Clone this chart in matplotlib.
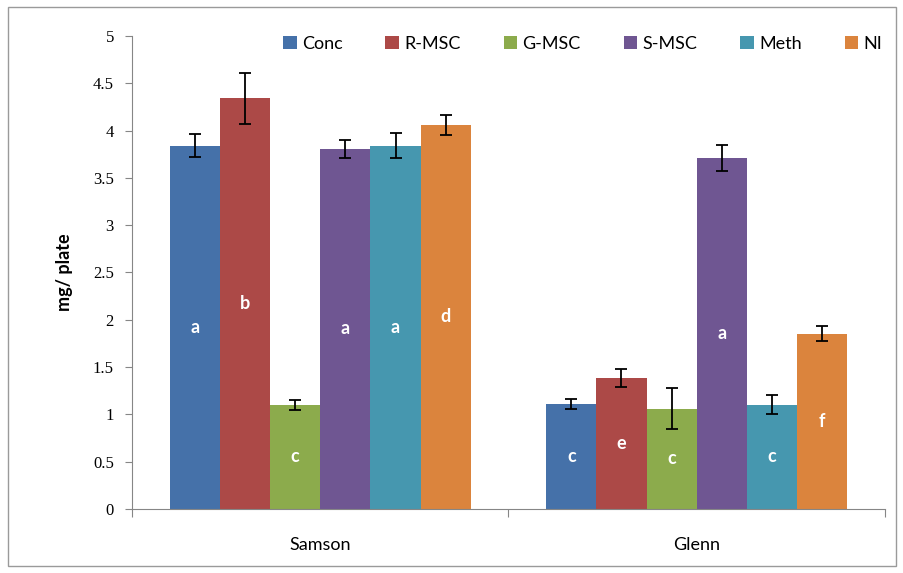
import numpy as np
import matplotlib.pyplot as plt
from matplotlib.patches import Rectangle

# data
cultivars = ["Samson", "Glenn"]
series = ["Conc", "R-MSC", "G-MSC", "S-MSC", "Meth", "NI"]
colors = ["#4571A9", "#AC4947", "#8CAB4C", "#6F5692", "#4697AF", "#DB843D"]

conc = [3.84, 1.11]
r_msc = [4.34, 1.38]
g_msc = [1.10, 1.06]
s_msc = [3.81, 3.71]
meth = [3.84, 1.10]
ni = [4.06, 1.85]

conc_err = [0.12, 0.055]
r_msc_err = [0.27, 0.095]
g_msc_err = [0.05, 0.22]
s_msc_err = [0.095, 0.14]
meth_err = [0.13, 0.10]
ni_err = [0.11, 0.08]

letters_samson = ["a", "b", "c", "a", "a", "d"]
letters_glenn = ["c", "e", "c", "a", "c", "f"]

valores = [conc, r_msc, g_msc, s_msc, meth, ni]
erros = [conc_err, r_msc_err, g_msc_err, s_msc_err, meth_err, ni_err]
letras = [letters_samson, letters_glenn]

sans = ["Lato", "DejaVu Sans"]
serif = ["Liberation Serif", "DejaVu Serif"]

fig = plt.figure(figsize=(9.04, 5.73), dpi=100)
fig.patches.append(Rectangle((0.009, 0.012), 0.982, 0.976, transform=fig.transFigure,
                             fill=False, edgecolor="#9a9a9a", linewidth=1.0))
ax = fig.add_axes([0.146, 0.112, 0.833, 0.825])

n = len(series)
largura = 0.8 / n
x = np.arange(len(cultivars))
for i, nome in enumerate(series):
    pos = x - 0.4 + largura * (i + 0.5)
    ax.bar(pos, valores[i], width=largura, color=colors[i], label=nome,
           yerr=erros[i], error_kw=dict(ecolor="black", elinewidth=1.3, capsize=4.5, capthick=1.3))
    # letra no centro da barra, como o rótulo "centro" do Excel
    for j in range(len(cultivars)):
        ax.text(pos[j], valores[i][j] / 2, letras[j][i], ha="center", va="center",
                color="white", fontsize=13, fontweight="bold", family=sans)

ax.set_xlim(-0.5, 1.5)
ax.set_ylim(0, 5)
ax.set_yticks(np.arange(0, 5.01, 0.5))
ax.set_yticklabels(["0", "0.5", "1", "1.5", "2", "2.5", "3", "3.5", "4", "4.5", "5"],
                   family=serif, fontsize=12)
ax.set_xticks([-0.5, 0.5, 1.5])
ax.set_xticklabels([])
ax.set_xticks(x, minor=True)
ax.set_xticklabels(cultivars, minor=True, family=sans, fontsize=13)
ax.tick_params(axis="x", which="minor", length=0, pad=20)
ax.tick_params(axis="x", which="major", length=6, color="#868686", direction="out")
ax.tick_params(axis="y", length=5, color="#868686", direction="out", pad=8)

for lado in ["top", "right"]:
    ax.spines[lado].set_visible(False)
for lado in ["left", "bottom"]:
    ax.spines[lado].set_color("#868686")

ax.set_ylabel("mg/ plate", fontsize=13, fontweight="bold", family=sans, labelpad=14)

ax.legend(loc="upper right", ncol=6, frameon=False, prop={"family": sans, "size": 13},
          handlelength=0.75, handleheight=0.75, handletextpad=0.3, columnspacing=2.37,
          bbox_to_anchor=(1.018, 1.035))

fig.savefig("out.png", dpi=100)
